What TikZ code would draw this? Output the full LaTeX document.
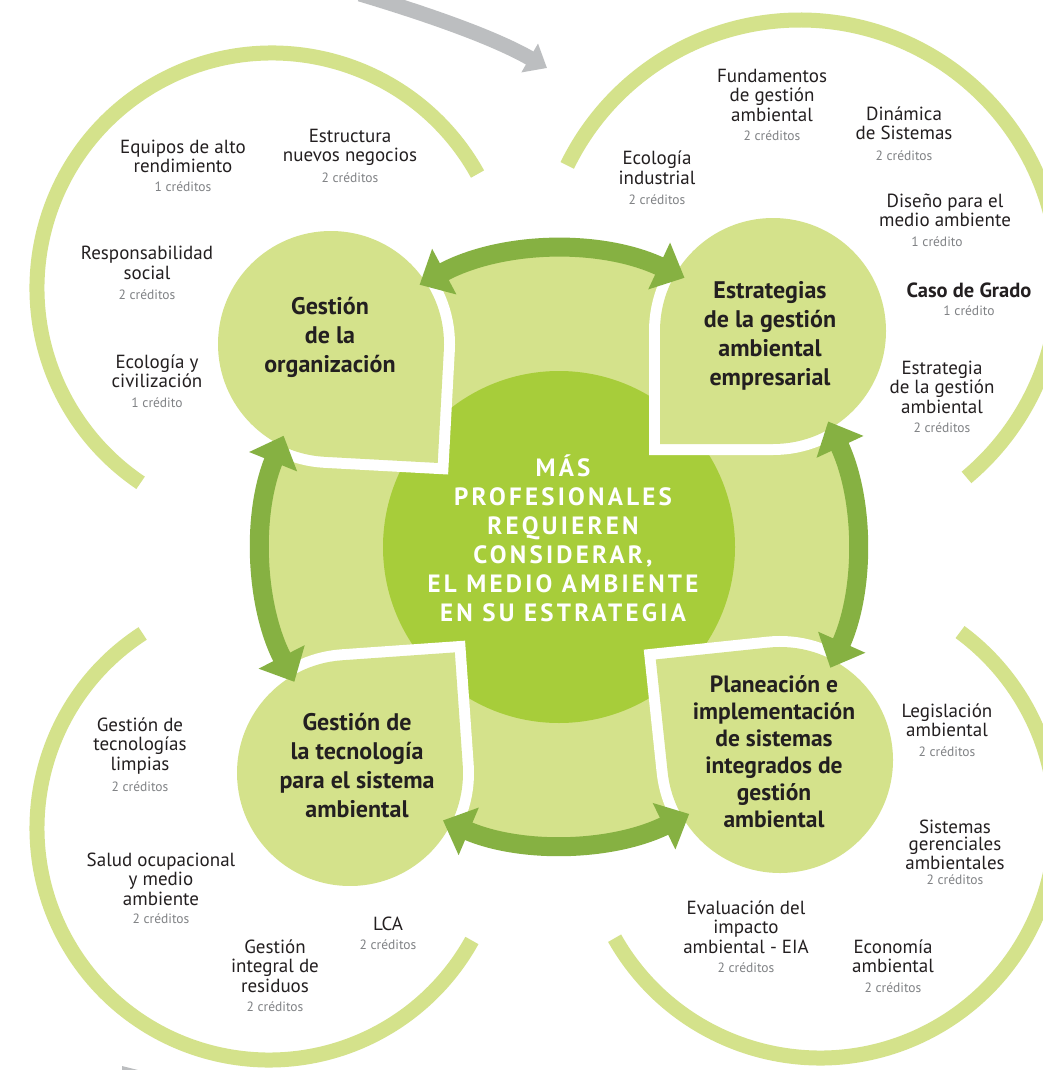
\documentclass[tikz,border=0pt]{standalone}
\usepackage{fontspec}
\setmainfont{PT Sans}
\usetikzlibrary{arrows.meta,calc}
\definecolor{lgreen}{RGB}{212,226,139}
\definecolor{bgreen}{RGB}{167,205,58}
\definecolor{dgreen}{RGB}{134,177,66}
\definecolor{greyarr}{RGB}{188,190,192}
\definecolor{txt}{RGB}{35,31,32}
\definecolor{credgrey}{RGB}{128,130,133}
\begin{document}
\begin{tikzpicture}[x=1pt,y=-1pt,
  ring/.style={draw=lgreen, line width=15pt},
  dblarrow/.style={draw=dgreen, line width=19pt,
     {Triangle[width=50pt,length=28pt]}-{Triangle[width=50pt,length=28pt]}},
  greyarrow/.style={draw=greyarr, line width=15pt, -{Triangle[width=32pt,length=20pt]}},
  tear/.style={fill=lgreen, preaction={draw=white, line width=22pt, line join=miter}},
  course/.style={align=center, font=\fontsize{19}{19.5}\selectfont, text=txt, inner sep=0pt},
  boldcourse/.style={align=center, font=\bfseries\fontsize{20.5}{19.5}\selectfont, text=txt, inner sep=0pt},
  cred/.style={font=\fontsize{13.5}{14}\selectfont, text=credgrey, inner sep=0pt},
  title/.style={align=center, font=\bfseries\fontsize{24}{29}\selectfont, text=txt, inner sep=0pt},
  ctitle/.style={align=center, font=\bfseries\fontsize{25}{29}\selectfont\addfontfeature{LetterSpace=13}, text=white, inner sep=0pt},
]
\useasboundingbox (0,0) rectangle (1043,1070);
\clip (0,0) rectangle (1043,1070);
\fill[white] (0,0) rectangle (1043,1070);

% outer rings
\draw[ring] (272,288) ++(-29:235) arc[start angle=-29, end angle=-236, radius=235];
\draw[ring] (800,279) ++(50:259) arc[start angle=50, end angle=-154, radius=259];
\draw[ring] (269,828) ++(-123:232) arc[start angle=-123, end angle=-331, radius=232];
\draw[ring] (820,822) ++(-209.5:236) arc[start angle=-209.5, end angle=-413.6, radius=236];

% grey arrows
\coordinate (g1) at (360,-6);
\coordinate (g2) at (547,68);
\draw[greyarrow] (g1) .. controls (430,15) and (495,38) .. (g2);
\fill[greyarr] (122,1066) -- (138,1070) -- (122,1070) -- cycle;

% centre
\coordinate (C) at (559,547);
\fill[lgreen] (C) circle[radius=297];
\fill[bgreen] (C) circle[radius=176];

% teardrops
\coordinate (TLc) at (331,344);
\coordinate (TRc) at (773,331);
\coordinate (BLc) at (350,773);
\coordinate (BRc) at (780,760);
\path[tear] (TLc) ++(93.1:113) arc[start angle=93.1, delta angle=270, radius=113]
   -- ($(TLc)+(48.1:159.8)$) -- cycle;
\path[tear] (TRc) ++(180:113) arc[start angle=180, delta angle=270, radius=113]
   -- ($(TRc)+(135:159.8)$) -- cycle;
\path[tear] (BLc) ++(-4:113) arc[start angle=-4, delta angle=270, radius=113]
   -- ($(BLc)+(-49:159.8)$) -- cycle;
\path[tear] (BRc) ++(-96:113) arc[start angle=-96, delta angle=270, radius=113]
   -- ($(BRc)+(-141:159.8)$) -- cycle;

% double arrows
\coordinate (aT) at ($(C)+(-118:297)$);
\coordinate (aR) at ($(C)+(-25:297)$);
\coordinate (aB) at ($(C)+(64:297)$);
\coordinate (aL) at ($(C)+(153:297)$);
\draw[dblarrow] (aT) arc[start angle=-118, end angle=-65, radius=297];
\draw[dblarrow] (aR) arc[start angle=-25, end angle=24, radius=297];
\draw[dblarrow] (aB) arc[start angle=64, end angle=113, radius=297];
\draw[dblarrow] (aL) arc[start angle=153, end angle=202, radius=297];

% titles
\node[ctitle] (center) at (563,538) {MÁS\\PROFESIONALES\\REQUIEREN\\CONSIDERAR,\\EL MEDIO AMBIENTE\\EN SU ESTRATEGIA};
\node[title] (tTL) at (330,337) {Gestión\\de la\\organización};
\node[title] (tTR) at (770,336) {Estrategias\\de la gestión\\ambiental\\empresarial};
\node[title] (tBL) at (357,766) {Gestión de\\la tecnología\\para el sistema\\ambiental};
\node[title,font=\bfseries\fontsize{23.5}{27}\selectfont] (tBR) at (774,752) {Planeación e\\implementación\\de sistemas\\integrados de\\gestión\\ambiental};

% courses top-left
\node[course] (c1) at (183,156.5) {Equipos de alto\\rendimiento};
\node[cred] (k1) at (183,187) {1 créditos};
\node[course] (c2) at (350,147.5) {Estructura\\nuevos negocios};
\node[cred] (k2) at (350,178) {2 créditos};
\node[course] (c3) at (147,263) {Responsabilidad\\social};
\node[cred] (k3) at (147,295) {2 créditos};
\node[course] (c4) at (157,371.5) {Ecología y\\civilización};
\node[cred] (k4) at (157,403) {1 crédito};

% courses top-right
\node[course] (c5) at (772,95) {Fundamentos\\de gestión\\ambiental};
\node[cred] (k5) at (772,136) {2 créditos};
\node[course] (c6) at (904,123.5) {Dinámica\\de Sistemas};
\node[cred] (k6) at (904,156) {2 créditos};
\node[course] (c7) at (657,168) {Ecología\\industrial};
\node[cred] (k7) at (657,200) {2 créditos};
\node[course] (c8) at (945,210.5) {Diseño para el\\medio ambiente};
\node[cred] (k8) at (937,242) {1 crédito};
\node[boldcourse] (c9) at (969,290) {Caso de Grado};
\node[cred] (k9) at (969,311) {1 crédito};
\node[course] (c10) at (942,387) {Estrategia\\de la gestión\\ambiental};
\node[cred] (k10) at (942,428) {2 créditos};

% courses bottom-left
\node[course] (c11) at (140,746) {Gestión de\\tecnologías\\limpias};
\node[cred] (k11) at (140,787) {2 créditos};
\node[course] (c12) at (161,879) {Salud ocupacional\\y medio\\ambiente};
\node[cred] (k12) at (161,919) {2 créditos};
\node[course] (c13) at (275,966) {Gestión\\integral de\\residuos};
\node[cred] (k13) at (275,1007) {2 créditos};
\node[course] (c14) at (388,924) {LCA};
\node[cred] (k14) at (388,945) {2 créditos};

% courses bottom-right
\node[course] (c15) at (947,720.5) {Legislación\\ambiental};
\node[cred] (k15) at (947,752) {2 créditos};
\node[course,font=\fontsize{19}{17}\selectfont] (c16) at (955,845) {Sistemas\\gerenciales\\ambientales};
\node[cred] (k16) at (955,880) {2 créditos};
\node[course] (c17) at (746,927) {Evaluación del\\impacto\\ambiental - EIA};
\node[cred] (k17) at (746,968) {2 créditos};
\node[course] (c18) at (893,956.5) {Economía\\ambiental};
\node[cred] (k18) at (893,988) {2 créditos};
\end{tikzpicture}
\end{document}
